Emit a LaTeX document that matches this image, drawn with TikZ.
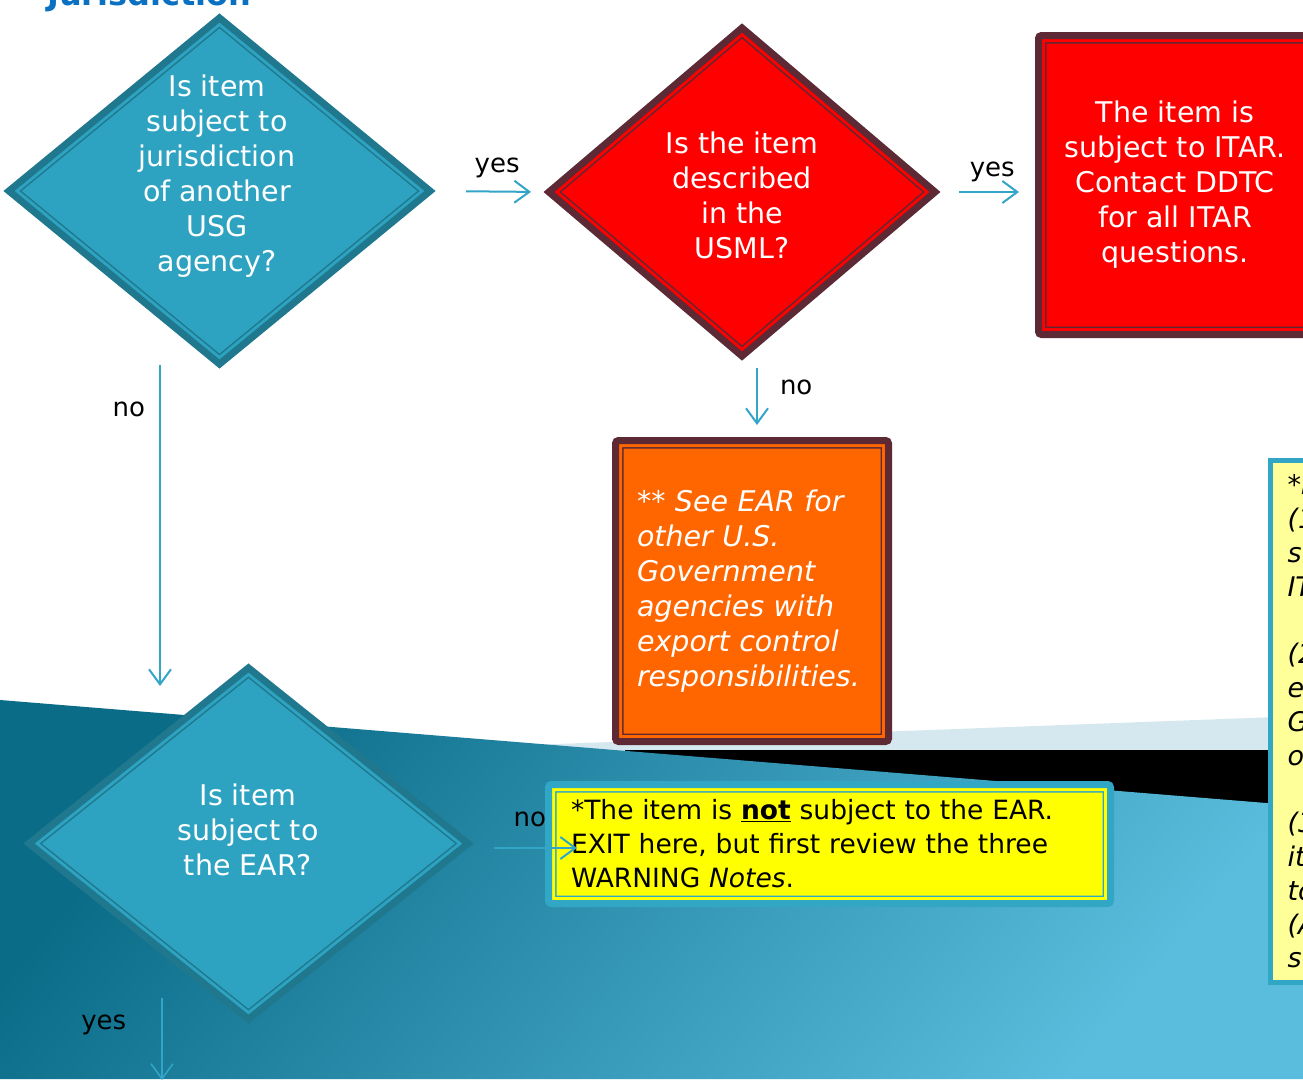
\documentclass[tikz,border=0pt]{standalone}
\usepackage{fontspec}
\setmainfont{DejaVu Sans}
\usetikzlibrary{arrows.meta,shapes.geometric,positioning}

\definecolor{tealfill}{HTML}{2EA3C1}
\definecolor{tealedge}{HTML}{1F788E}
\definecolor{arrowteal}{HTML}{33A5C8}
\definecolor{usmlred}{HTML}{FF0000}
\definecolor{maroon}{HTML}{5C2935}
\definecolor{warnorange}{HTML}{FF6600}
\definecolor{noteyellow}{HTML}{FFFF00}
\definecolor{paleyellow}{HTML}{FFFF99}
\definecolor{boxteal}{HTML}{31A7C5}
\definecolor{bandpale}{HTML}{D6E8EF}
\definecolor{seadark}{HTML}{0B6C88}
\definecolor{sealight}{HTML}{5ABDDD}
\definecolor{titleblue}{HTML}{0A70C2}

\newcommand{\qsize}{\fontsize{28.5}{35}\selectfont}
\newcommand{\lblsize}{\fontsize{26}{30}\selectfont}

\begin{document}
\begin{tikzpicture}[x=1pt, y=-1pt, >={Straight Barb[length=15pt,width=22pt]},
    diaframe/.style 2 args={diamond, inner sep=0pt, line join=miter, fill=#2, draw=#1, line width=7pt,
      path picture={\path[draw=#1, line width=16pt, postaction={draw=#2, line width=13pt}]
        (path picture bounding box.north) -- (path picture bounding box.east) --
        (path picture bounding box.south) -- (path picture bounding box.west) -- cycle;}},
    boxframe/.style 2 args={rectangle, inner sep=0pt, rounded corners=3pt, fill=#2, draw=#1, line width=7pt,
      path picture={\path[draw=#1, line width=16pt, postaction={draw=#2, line width=13pt}]
        (path picture bounding box.south west) rectangle (path picture bounding box.north east);}},
    qtext/.style={text=white, align=center, font=\qsize, inner sep=0pt},
    flow/.style={draw=arrowteal, line width=2pt},
    lbl/.style={text=black, font=\lblsize, inner sep=2pt, text height=19pt, text depth=6pt},
    sidenote/.style={rectangle, draw=boxteal, line width=5pt, fill=paleyellow,
      text width=150pt, align=left, inner xsep=17.5pt, inner ysep=0pt,
      minimum height=522pt, font=\fontsize{27}{33.8}\selectfont\itshape}]
    \useasboundingbox (0,0) rectangle (1303,1079);
    \clip (0,0) rectangle (1303,1079);

    % slide background
    \fill[white] (0,0) rectangle (1303,1079);
    \fill[bandpale] (450,748) -- (1303,716) -- (1303,760) -- (450,760) -- cycle;
    \fill[black] (625,750) -- (1303,750) -- (1303,815) -- (625,815) -- cycle;
    \shade[top color=seadark, bottom color=sealight, shading angle=50] (0,700) -- (1303,806) -- (1303,1079) -- (0,1079) -- cycle;

    \node[anchor=base west, text=titleblue, font=\fontsize{32}{36}\selectfont\bfseries, inner sep=0pt] (title) at (47,5) {Jurisdiction};

    % decisions and results
    \node[diaframe={tealedge}{tealfill}, minimum width=424pt, minimum height=349pt] (q1) at (219.5,191) {};
    \node[qtext] (q1txt) at (217,176) {Is item\\subject to\\jurisdiction\\of another\\USG\\agency?};
    \node[diaframe={maroon}{usmlred}, minimum width=389pt, minimum height=331pt] (q2) at (742,192) {};
    \node[qtext] (q2txt) at (742,195.5) {Is the item\\described\\in the\\USML?};
    \node[boxframe={maroon}{usmlred}, minimum width=273pt, minimum height=299pt, align=center,
        text=white, font=\qsize] (itar) at (1175,185)
        {The item is\\subject to ITAR.\\ Contact DDTC\\for all ITAR\\questions.};
    \node[boxframe={maroon}{warnorange}, minimum width=273pt, minimum height=301pt, text width=230pt, align=left,
        text=white, font=\qsize\itshape] (seeear) at (752,591)
        {** See EAR for\\other U.S.\\Government\\agencies with\\export control\\responsibilities.};
    \node[diaframe={tealedge}{tealfill}, minimum width=442pt, minimum height=354pt] (q3) at (248.5,843.5) {};
    \node[qtext] (q3txt) at (248,830) {Is item\\subject to\\the EAR?};
    \node[boxframe={boxteal}{noteyellow}, minimum width=562pt, minimum height=119pt, text width=517pt, align=left,
        text=black, font=\fontsize{26.5}{34}\selectfont] (notear) at (829.5,844)
        {*The item is \underline{\textbf{not}} subject to the EAR.\\EXIT here, but first review the three\\WARNING \textit{Notes}.};
    \node[sidenote, anchor=west] (warnnotes) at (1267.5,721.5)
        {*N\\(1\\su\\IT\\\mbox{}\\(2\\ex\\G\\o\\\mbox{}\\(3\\it\\to\\(A\\su};

    \coordinate (exitdown) at (162,1080);

    % connectors
    \path[->] (q1.east) edge[flow, shorten <=31pt, shorten >=13pt] node[lbl, pos=0.57, above=10.5pt] {yes} (q2.west);
    \path[->] (q2.east) edge[flow, shorten <=19pt, shorten >=16pt] node[lbl, pos=0.55, above=7pt] {yes} (q2.east -| itar.west);
    \path[->] ([xshift=15pt]q2.south) edge[flow, shorten <=7pt, shorten >=12pt] node[lbl, pos=0.36, right=20pt] {no} ([xshift=5pt]seeear.north);
    \path[->] ([xshift=-59.5pt]q1.south) edge[flow, shorten <=-4pt, shorten >=-23pt] node[lbl, pos=0.14, left=12pt] {no} ([xshift=-88.5pt]q3.north);
    \path[->] ([xshift=-86.5pt,yshift=26pt]q3.south) edge[flow, line width=1.5pt] node[lbl, pos=0.31, left=33pt] {yes} (exitdown);
    \path[->] ([yshift=-4.5pt]q3.east) edge[flow, shorten <=21pt, shorten >=-32pt] node[lbl, pos=0.79, above=13pt] {no} ([yshift=-4pt]notear.west);
\end{tikzpicture}
\end{document}
